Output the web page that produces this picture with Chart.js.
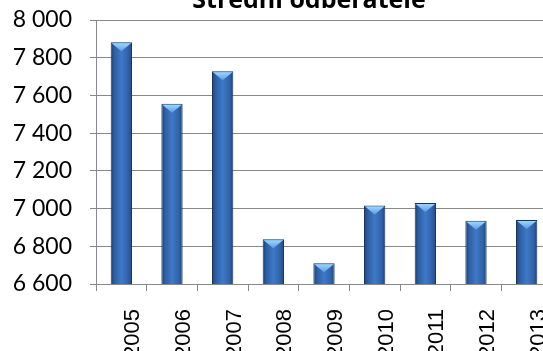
<!DOCTYPE html>
<html>
<head>
<meta charset="utf-8">
<script src="https://cdn.jsdelivr.net/npm/chart.js@4/dist/chart.umd.min.js"></script>
<style>
  html, body { margin: 0; padding: 0; background: #fff; overflow: hidden; }
  canvas { display: block; }
</style>
</head>
<body>
<canvas id="chart" width="560" height="351"></canvas>
<script>
// data
const chartTitle = 'Střední odběratele';
const years = ['2005', '2006', '2007', '2008', '2009', '2010', '2011', '2012', '2013'];
const customers = [7882, 7556, 7728, 6837, 6710, 7016, 7030, 6935, 6940];
const yMin = 6600;
const yMax = 8000;
const yStep = 200;

const gridColor = '#888888';

// formats 8000 -> "8 000"
const fmt = v => String(v).replace(/\B(?=(\d{3})+(?!\d))/g, ' ');

// horizontal gradient across each bar, gives the cylinder look
const barFill = (ctx) => {
  const chart = ctx.chart;
  const xs = chart.scales.x;
  if (!xs || ctx.type !== 'data') return '#3a6fb5';
  const cx = xs.getPixelForValue(ctx.dataIndex);
  if (!Number.isFinite(cx)) return '#3a6fb5';
  const g = chart.ctx.createLinearGradient(cx - 11, 0, cx + 11, 0);
  g.addColorStop(0, '#1b3a68');
  g.addColorStop(0.18, '#2c5ea3');
  g.addColorStop(0.5, '#3f79c6');
  g.addColorStop(0.82, '#2e62aa');
  g.addColorStop(1, '#1c3c6c');
  return g;
};

// light chevron on top of every bar
const bevelPlugin = {
  id: 'bevel',
  afterDatasetsDraw(chart) {
    const ctx = chart.ctx;
    chart.getDatasetMeta(0).data.forEach(bar => {
      const { x, y, width } = bar.getProps(['x', 'y', 'width'], true);
      const l = x - width / 2 + 1, r = x + width / 2 - 1;
      const g = ctx.createLinearGradient(0, y, 0, y + 9);
      g.addColorStop(0, '#a6dcff');
      g.addColorStop(1, '#5a9ce2');
      ctx.save();
      ctx.beginPath();
      ctx.moveTo(l, y + 1);
      ctx.lineTo(r, y + 1);
      ctx.lineTo(x, y + 9);
      ctx.closePath();
      ctx.fillStyle = g;
      ctx.fill();
      ctx.restore();
    });
  }
};

// title sits above the canvas top, only lower part is visible
const titlePlugin = {
  id: 'cutTitle',
  afterDraw(chart) {
    const ctx = chart.ctx;
    ctx.save();
    ctx.font = 'bold 25px "Open Sans", sans-serif';
    ctx.fillStyle = '#000';
    ctx.textAlign = 'center';
    ctx.textBaseline = 'alphabetic';
    ctx.fillText(chartTitle, 309, 8);
    ctx.restore();
  }
};

const chart = new Chart(document.getElementById('chart'), {
  type: 'bar',
  data: {
    labels: years,
    datasets: [{
      data: customers,
      backgroundColor: barFill,
      borderColor: '#17325a',
      borderWidth: 1,
      borderSkipped: 'bottom',
      barPercentage: 0.42,
      categoryPercentage: 1
    }]
  },
  options: {
    responsive: false,
    animation: false,
    devicePixelRatio: 1,
    layout: { padding: { top: 20, right: 8, left: 0, bottom: 0 } },
    plugins: {
      legend: { display: false },
      tooltip: { enabled: false },
      title: { display: false }
    },
    scales: {
      x: {
        grid: {
          offset: true,
          drawOnChartArea: false,
          drawTicks: true,
          tickLength: 7,
          color: gridColor
        },
        border: { color: gridColor },
        ticks: {
          minRotation: 90,
          maxRotation: 90,
          padding: 18,
          // rotated labels get pulled left by half a line height, push them back over the bars
          labelOffset: 12,
          color: '#000',
          font: { family: '"Liberation Sans", Arial, sans-serif', size: 22 }
        },
        afterFit(scale) { scale.height = 67; scale.paddingLeft = 0; scale.paddingRight = 0; }
      },
      y: {
        min: yMin,
        max: yMax,
        grid: { color: gridColor, tickLength: 6 },
        border: { color: gridColor },
        ticks: {
          stepSize: yStep,
          padding: 18,
          color: '#000',
          font: { family: 'Lato, sans-serif', size: 23 },
          callback: v => fmt(v)
        },
        afterFit(scale) { scale.width = 96; scale.paddingTop = 0; scale.paddingBottom = 0; }
      }
    }
  },
  plugins: [bevelPlugin, titlePlugin]
});
// second pass so the gradients see laid-out scales
chart.update('none');
</script>
</body>
</html>
